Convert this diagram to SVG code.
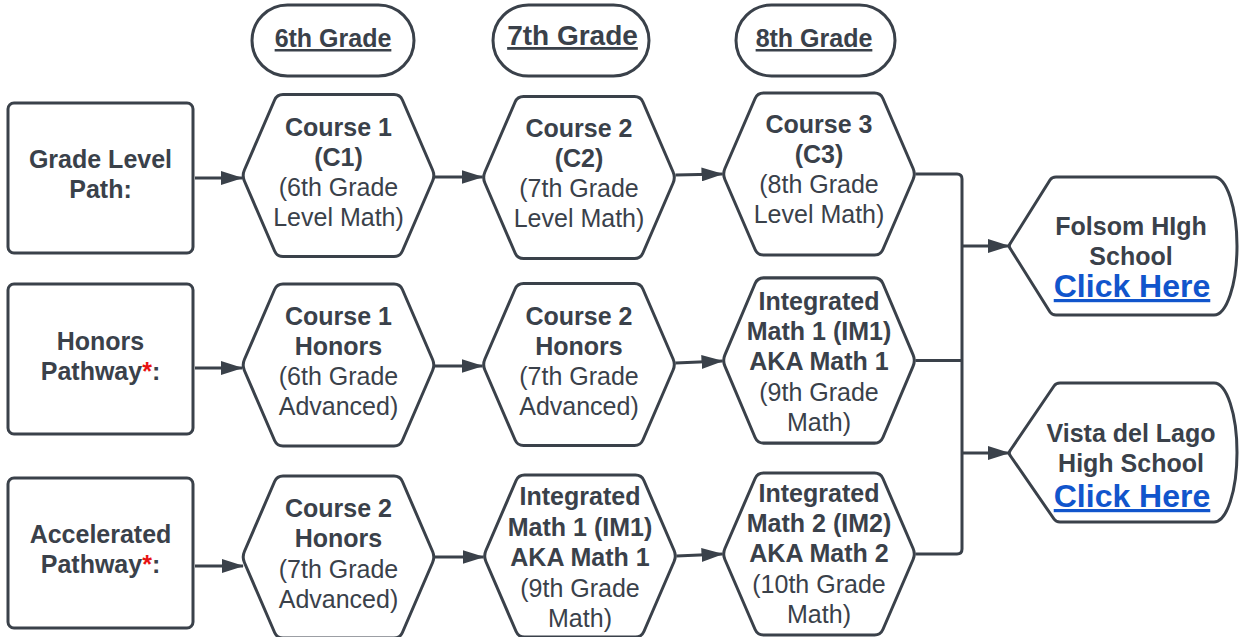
<svg xmlns="http://www.w3.org/2000/svg" xmlns:xlink="http://www.w3.org/1999/xlink" width="1239" height="637" viewBox="0 0 1239 637">
<style>
.shape{fill:#ffffff;stroke:#3a414a;stroke-width:3;stroke-linejoin:round}
.conn{fill:none;stroke:#3a414a;stroke-width:3}
text{font-family:"Liberation Sans",Arial,sans-serif;fill:#3a414a;text-anchor:middle}
.b{font-weight:bold;font-size:25px}
.r{font-size:25px}
.hdr{font-weight:bold;font-size:25px;text-decoration:underline}
.link{font-weight:bold;font-size:32px;fill:#1155cc;text-decoration:underline}
.star{fill:#e81313}
</style>
<defs>
<path id="hex" d="M -94.1,-5.5 L -63.9,-75.5 Q -61.5,-81 -55.5,-81 L 55.5,-81 Q 61.5,-81 63.9,-75.5 L 94.1,-5.5 Q 96.5,0 94.1,5.5 L 63.9,75.5 Q 61.5,81 55.5,81 L -55.5,81 Q -61.5,81 -63.9,75.5 L -94.1,5.5 Q -96.5,0 -94.1,-5.5 Z"/>
<marker id="ah" viewBox="0 0 22 14" refX="21" refY="7" markerWidth="22" markerHeight="14" markerUnits="userSpaceOnUse" orient="auto">
<path d="M0,0 L22,7 L0,14 Z" fill="#3a414a"/>
</marker>
</defs>

<g id="connectors">
<path class="conn" d="M195,178 H242" marker-end="url(#ah)"/>
<path class="conn" d="M435,177 H482.5" marker-end="url(#ah)"/>
<path class="conn" d="M675.5,175 L722.5,174" marker-end="url(#ah)"/>
<path class="conn" d="M195,368 H242" marker-end="url(#ah)"/>
<path class="conn" d="M435,366 H482.5" marker-end="url(#ah)"/>
<path class="conn" d="M675.5,363 L722.5,361" marker-end="url(#ah)"/>
<path class="conn" d="M195,566 H243" marker-end="url(#ah)"/>
<path class="conn" d="M435,557 H483.5" marker-end="url(#ah)"/>
<path class="conn" d="M676.5,556 L722.5,554" marker-end="url(#ah)"/>
<path class="conn" d="M915.5,174 H957 Q962,174 962,179 V360"/>
<path class="conn" d="M915.5,360.5 H962"/>
<path class="conn" d="M915.5,554 H957 Q962,554 962,549 V360"/>
<path class="conn" d="M962,246 H1009" marker-end="url(#ah)"/>
<path class="conn" d="M962,453 H1009" marker-end="url(#ah)"/>
</g>

<g id="hdr6">
<rect class="shape" x="252" y="5" width="162" height="71" rx="35.5"/>
<text class="hdr" x="333" y="47">6th Grade</text>
</g>
<g id="hdr7">
<rect class="shape" x="493" y="5" width="156" height="71" rx="35.5"/>
<text class="hdr" x="572.5" y="45" style="font-size:28px">7th Grade</text>
</g>
<g id="hdr8">
<rect class="shape" x="736" y="5" width="159" height="71" rx="35.5"/>
<text class="hdr" x="814" y="47">8th Grade</text>
</g>

<g id="box-grade">
<rect class="shape" x="8" y="103" width="185" height="150" rx="6"/>
<text class="b" x="100.5" y="168">Grade Level</text>
<text class="b" x="100.5" y="198">Path:</text>
</g>
<g id="box-honors">
<rect class="shape" x="8" y="284" width="185" height="150" rx="6"/>
<text class="b" x="100.5" y="350">Honors</text>
<text class="b" x="100.5" y="380">Pathway<tspan class="star">*</tspan>:</text>
</g>
<g id="box-accel">
<rect class="shape" x="8" y="478" width="185" height="150" rx="6"/>
<text class="b" x="100.5" y="543">Accelerated</text>
<text class="b" x="100.5" y="573">Pathway<tspan class="star">*</tspan>:</text>
</g>

<g id="r1c1">
<use xlink:href="#hex" href="#hex" class="shape" transform="translate(338.5,175.5)"/>
<text class="b" x="338.5" y="136">Course 1</text>
<text class="b" x="338.5" y="166">(C1)</text>
<text class="r" x="338.5" y="196">(6th Grade</text>
<text class="r" x="338.5" y="226">Level Math)</text>
</g>
<g id="r1c2">
<use xlink:href="#hex" href="#hex" class="shape" transform="translate(579,177.5)"/>
<text class="b" x="579" y="137">Course 2</text>
<text class="b" x="579" y="167">(C2)</text>
<text class="r" x="579" y="197">(7th Grade</text>
<text class="r" x="579" y="227">Level Math)</text>
</g>
<g id="r1c3">
<use xlink:href="#hex" href="#hex" class="shape" transform="translate(819,174)"/>
<text class="b" x="819" y="133">Course 3</text>
<text class="b" x="819" y="163">(C3)</text>
<text class="r" x="819" y="193">(8th Grade</text>
<text class="r" x="819" y="223">Level Math)</text>
</g>

<g id="r2c1">
<use xlink:href="#hex" href="#hex" class="shape" transform="translate(338.5,365)"/>
<text class="b" x="338.5" y="325">Course 1</text>
<text class="b" x="338.5" y="355">Honors</text>
<text class="r" x="338.5" y="385">(6th Grade</text>
<text class="r" x="338.5" y="415">Advanced)</text>
</g>
<g id="r2c2">
<use xlink:href="#hex" href="#hex" class="shape" transform="translate(579,364.5)"/>
<text class="b" x="579" y="325">Course 2</text>
<text class="b" x="579" y="355">Honors</text>
<text class="r" x="579" y="385">(7th Grade</text>
<text class="r" x="579" y="415">Advanced)</text>
</g>
<g id="r2c3">
<use xlink:href="#hex" href="#hex" class="shape" transform="translate(819,360.5) scale(1,1.02)"/>
<text class="b" x="819" y="310">Integrated</text>
<text class="b" x="819" y="340">Math 1 (IM1)</text>
<text class="b" x="819" y="370">AKA Math 1</text>
<text class="r" x="819" y="401">(9th Grade</text>
<text class="r" x="819" y="431">Math)</text>
</g>

<g id="r3c1">
<use xlink:href="#hex" href="#hex" class="shape" transform="translate(338.5,557)"/>
<text class="b" x="338.5" y="517">Course 2</text>
<text class="b" x="338.5" y="547">Honors</text>
<text class="r" x="338.5" y="578">(7th Grade</text>
<text class="r" x="338.5" y="608">Advanced)</text>
</g>
<g id="r3c2">
<use xlink:href="#hex" href="#hex" class="shape" transform="translate(580,556)"/>
<text class="b" x="580" y="505">Integrated</text>
<text class="b" x="580" y="536">Math 1 (IM1)</text>
<text class="b" x="580" y="566">AKA Math 1</text>
<text class="r" x="580" y="597">(9th Grade</text>
<text class="r" x="580" y="627">Math)</text>
</g>
<g id="r3c3">
<use xlink:href="#hex" href="#hex" class="shape" transform="translate(819,554)"/>
<text class="b" x="819" y="502">Integrated</text>
<text class="b" x="819" y="532">Math 2 (IM2)</text>
<text class="b" x="819" y="562">AKA Math 2</text>
<text class="r" x="819" y="593">(10th Grade</text>
<text class="r" x="819" y="623">Math)</text>
</g>

<g id="folsom">
<path class="shape" d="M1010.5,249 Q1008,246 1010.5,243 L1050,180 Q1052,177 1056,177 L1214,177 A23,69 0 0 1 1214,315 L1056,315 Q1052,315 1050,312 Z"/>
<text class="b" x="1131" y="235">Folsom HIgh</text>
<text class="b" x="1131" y="265">School</text>
<text class="link" x="1132" y="297">Click Here</text>
</g>
<g id="vista">
<path class="shape" d="M1010.5,456 Q1008,453 1010.5,450 L1054,386 Q1056,383 1060,383 L1214,383 A23,69.5 0 0 1 1214,522 L1060,522 Q1056,522 1054,519 Z"/>
<text class="b" x="1131" y="442">Vista del Lago</text>
<text class="b" x="1131" y="472">High School</text>
<text class="link" x="1132" y="507">Click Here</text>
</g>
</svg>
